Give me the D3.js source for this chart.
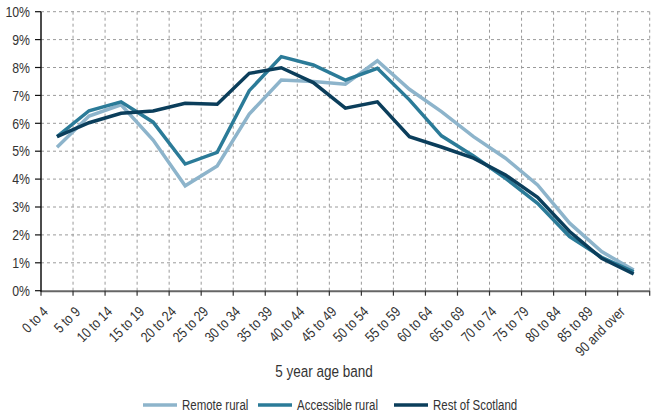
<!DOCTYPE html>
<html><head><meta charset="utf-8">
<script src="https://cdn.jsdelivr.net/npm/d3@7"></script>
<style>
body{margin:0;background:#fff;}
text{font-family:"Liberation Sans",Arial,sans-serif;fill:#333;}
</style></head>
<body><svg id="c" width="652" height="413"></svg>
<script>
const categories = ["0 to 4","5 to 9","10 to 14","15 to 19","20 to 24","25 to 29","30 to 34","35 to 39","40 to 44","45 to 49","50 to 54","55 to 59","60 to 64","65 to 69","70 to 74","75 to 79","80 to 84","85 to 89","90 and over"];
const remoteRural = [5.14,6.26,6.66,5.40,3.76,4.47,6.33,7.55,7.50,7.40,8.24,7.22,6.42,5.52,4.75,3.79,2.42,1.40,0.74];
const accessibleRural = [5.52,6.45,6.77,6.04,4.54,4.96,7.17,8.39,8.09,7.55,7.97,6.84,5.55,4.83,4.03,3.13,1.94,1.20,0.68];
const restOfScotland = [5.52,6.02,6.36,6.44,6.72,6.68,7.79,7.99,7.46,6.54,6.77,5.52,5.15,4.75,4.15,3.35,2.12,1.16,0.60];
const yTicks = [0,1,2,3,4,5,6,7,8,9,10];
const seriesNames = ["Remote rural","Accessible rural","Rest of Scotland"];
const seriesColors = ["#8db4cb","#2b7b98","#0b3e5b"];
const xTitle = "5 year age band";

const NARROW = 0.82;
const series = [remoteRural, accessibleRural, restOfScotland];
const svg = d3.select("#c");
const L = 41, R = 649.7, T = 11.7, B = 290.7;
const x = d3.scaleBand().domain(categories).range([L, R]);
const y = d3.scaleLinear().domain([0, 10]).range([B, T]);

// grid
const g = svg.append("g");
g.selectAll(".hg").data(yTicks.filter(d => d > 0)).enter().append("line")
  .attr("x1", L).attr("x2", R).attr("y1", d => y(d)).attr("y2", d => y(d))
  .attr("stroke", "#9a9a9a").attr("stroke-dasharray", "3,3").attr("stroke-width", 1);
const bounds = categories.map(c => x(c) + x.bandwidth());
g.selectAll(".vg").data(bounds).enter().append("line")
  .attr("x1", d => d).attr("x2", d => d).attr("y1", T).attr("y2", B)
  .attr("stroke", "#9a9a9a").attr("stroke-dasharray", "3,3").attr("stroke-width", 1);

// bottom axis
const bx = svg.append("g");
bx.append("line").attr("x1", L).attr("x2", R).attr("y1", B + 0.5).attr("y2", B + 0.5)
  .attr("stroke", "#666").attr("stroke-width", 2);
bx.selectAll(".bt").data([L].concat(bounds)).enter().append("line")
  .attr("x1", d => d).attr("x2", d => d).attr("y1", B).attr("y2", B + 5)
  .attr("stroke", "#333").attr("stroke-width", 1.2);
bx.selectAll(".bl").data(categories).enter().append("text")
  .attr("transform", d => `translate(${x(d) + x.bandwidth()/2 - 8},${B + 22}) rotate(-45) scale(${NARROW},1)`)
  .attr("text-anchor", "end").attr("font-size", 14.5).text(d => d);

// left axis
const lx = svg.append("g");
lx.append("line").attr("x1", L).attr("x2", L).attr("y1", T).attr("y2", B + 1)
  .attr("stroke", "#111").attr("stroke-width", 1.5);
lx.selectAll(".lt").data(yTicks).enter().append("line")
  .attr("x1", L - 6).attr("x2", L).attr("y1", d => y(d)).attr("y2", d => y(d))
  .attr("stroke", "#111").attr("stroke-width", 1.2);
lx.selectAll(".ll").data(yTicks).enter().append("text")
  .attr("transform", d => `translate(30,${y(d)}) scale(${NARROW},1)`)
  .attr("dy", "0.35em").attr("text-anchor", "end").attr("font-size", 15).text(d => d + "%");

// lines
const line = d3.line().x((d, i) => x(categories[i]) + x.bandwidth()/2).y(d => y(d));
series.forEach((s, k) => {
  svg.append("path").datum(s).attr("d", line).attr("fill", "none")
    .attr("stroke", seriesColors[k]).attr("stroke-width", 3.5)
    .attr("stroke-linejoin", "miter");
});

// title
svg.append("text").attr("transform", `translate(324,377) scale(${NARROW},1)`)
  .attr("text-anchor", "middle").attr("font-size", 16.5).text(xTitle);

// legend
const legX = [143, 258, 394];
const lg = svg.selectAll(".lg").data(seriesNames).enter().append("g")
  .attr("transform", (d, i) => `translate(${legX[i]},405)`);
lg.append("line").attr("x1", 0).attr("x2", 34).attr("y1", 0).attr("y2", 0)
  .attr("stroke", (d, i) => seriesColors[i]).attr("stroke-width", 3.5);
lg.append("text").attr("transform", `translate(39,0) scale(${NARROW},1)`)
  .attr("dy", "0.35em").attr("font-size", 14).text(d => d);
</script></body></html>
